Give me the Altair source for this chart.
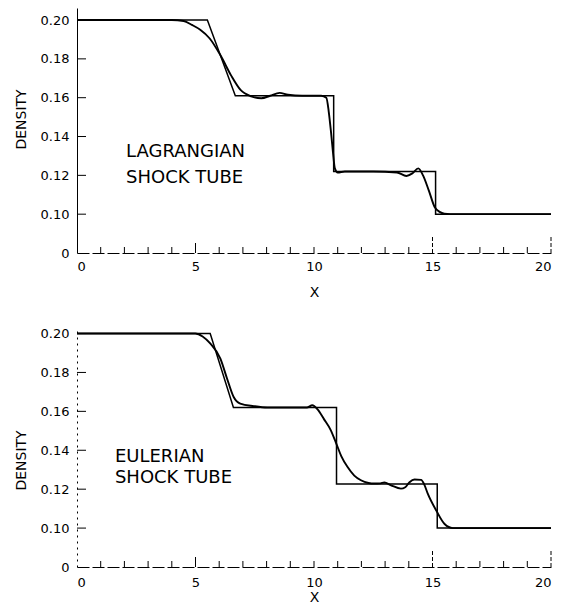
import altair as alt
import pandas as pd

# ---------------- data ----------------
Y_TICKS = [0.08, 0.10, 0.12, 0.14, 0.16, 0.18, 0.20]
Y_INNER_TICKS = [0.10, 0.12, 0.14, 0.16, 0.18, 0.20]
X_LABELS = [0, 5, 10, 15, 20]
X_MINOR = [1, 2, 3, 4, 6, 7, 8, 9, 10, 11, 12, 13, 14, 16, 17, 18, 19]
X_MID = [5]
X_MAJOR = [15, 20]

# Lagrangian (top) – exact solution
lag_exact_x = [0, 5.5, 6.68, 10.83, 10.83, 15.13, 15.13, 20]
lag_exact_y = [0.200, 0.200, 0.161, 0.161, 0.122, 0.122, 0.100, 0.100]
# Lagrangian – numerical solution
lag_num_x = [0, 4.0, 4.5, 4.85, 5.2, 5.6, 6.06, 6.5, 6.9, 7.35, 7.78, 8.15, 8.55,
             8.9, 9.5, 10.3, 10.52, 10.62, 10.72, 10.8, 10.88, 11.0, 11.3, 12.5,
             13.5, 13.9, 14.15, 14.4, 14.6, 14.85, 15.09, 15.3, 15.5, 16.0, 17.0, 20.0]
lag_num_y = [0.200, 0.200, 0.1995, 0.1975, 0.1950, 0.1905, 0.1817, 0.1715, 0.1640,
             0.1607, 0.1597, 0.1610, 0.1625, 0.1615, 0.1610, 0.1610, 0.1600, 0.1530,
             0.1420, 0.1320, 0.1236, 0.1215, 0.1220, 0.1220, 0.1215, 0.1197, 0.1210,
             0.1236, 0.1200, 0.1120, 0.1037, 0.1012, 0.1003, 0.1000, 0.1000, 0.1000]
lag_text = ["LAGRANGIAN", "SHOCK TUBE"]
lag_text_x = [2.07, 2.07]
lag_text_y = [0.1296, 0.1162]

# Eulerian (bottom) – exact solution
eul_exact_x = [0, 5.62, 6.6, 10.95, 10.95, 15.2, 15.2, 20]
eul_exact_y = [0.200, 0.200, 0.162, 0.162, 0.1226, 0.1226, 0.100, 0.100]
# Eulerian – numerical solution
eul_num_x = [0, 4.99, 5.3, 5.62, 6.05, 6.33, 6.61, 6.89, 7.46, 8.03, 9.0, 9.7, 9.93,
             10.15, 10.42, 10.7, 10.92, 11.15, 11.41, 11.7, 11.98, 12.3, 12.54, 12.8,
             12.97, 13.25, 13.67, 13.85, 14.03, 14.24, 14.52, 14.65, 14.8, 15.16,
             15.51, 15.86, 17.0, 20.0]
eul_num_y = [0.200, 0.200, 0.1985, 0.1949, 0.1871, 0.1769, 0.1674, 0.1640, 0.1627,
             0.1620, 0.1620, 0.1620, 0.1631, 0.1610, 0.1560, 0.1505, 0.1441, 0.1370,
             0.1315, 0.1270, 0.1246, 0.1232, 0.1229, 0.1230, 0.1234, 0.1220, 0.1203,
             0.1210, 0.1236, 0.1250, 0.1248, 0.1225, 0.1177, 0.1090, 0.1021, 0.1000,
             0.1000, 0.1000]
eul_text = ["EULERIAN", "SHOCK TUBE"]
eul_text_x = [1.6, 1.6]
eul_text_y = [0.134, 0.1232]

FONT = "DejaVu Sans"
W = 474


def panel(ex, ey, nx, ny, txt, tx, ty, ymax, h, xlab_pad, xtitle_pad, title_y, ydash=None):
    xs = alt.Scale(domain=[0, 20], nice=False, zero=False)
    ys = alt.Scale(domain=[0.08, ymax], nice=False, zero=False)
    exact = pd.DataFrame({"x": ex, "y": ey, "o": list(range(len(ex)))})
    num = pd.DataFrame({"x": nx, "y": ny, "o": list(range(len(nx)))})

    xaxis = alt.Axis(values=X_LABELS, ticks=False, grid=False, title="X",
                     labelPadding=xlab_pad, titlePadding=xtitle_pad, format="d",
                     domainDash=[12, 3])
    yargs = dict(values=Y_TICKS, ticks=False, grid=False, title="DENSITY",
                 labelExpr="datum.value < 0.09 ? '0' : format(datum.value, '.2f')",
                 labelPadding=8, titlePadding=12, titleY=title_y)
    if ydash:
        yargs["domainDash"] = ydash
    yaxis = alt.Axis(**yargs)

    def X(f):
        return alt.X(f, scale=xs, axis=xaxis)

    def Y(f):
        return alt.Y(f, scale=ys, axis=yaxis)

    l_exact = alt.Chart(exact).mark_line(color="black", strokeWidth=1.5).encode(
        x=X("x:Q"), y=Y("y:Q"), order="o:Q")
    l_num = alt.Chart(num).mark_line(color="black", strokeWidth=1.9,
                                     interpolate="monotone").encode(
        x=X("x:Q"), y=Y("y:Q"), order="o:Q")

    def xticks(vals, length, dash=None):
        mk = dict(color="black", strokeWidth=1)
        if dash:
            mk["strokeDash"] = dash
        return alt.Chart(pd.DataFrame({"t": vals})).mark_rule(**mk).encode(
            x=X("t:Q"), y=alt.value(h), y2=alt.value(h - length))

    minor = xticks(X_MINOR, 6)
    mid = xticks(X_MID, 10)
    major = xticks(X_MAJOR, 18, [4, 2])

    yt = alt.Chart(pd.DataFrame({"t": Y_INNER_TICKS})).mark_rule(
        color="black", strokeWidth=1).encode(
        y=Y("t:Q"), x=alt.value(0), x2=alt.value(9))

    text = alt.Chart(pd.DataFrame({"x": tx, "y": ty, "t": txt})).mark_text(
        align="left", baseline="alphabetic", fontSize=18, font=FONT,
        color="black").encode(x=X("x:Q"), y=Y("y:Q"), text="t:N")

    return alt.layer(l_exact, l_num, minor, mid, major, yt, text).properties(
        width=W, height=h)


top = panel(lag_exact_x, lag_exact_y, lag_num_x, lag_num_y, lag_text, lag_text_x,
            lag_text_y, 0.2062, 245, 7, 12, 111)
bottom = panel(eul_exact_x, eul_exact_y, eul_num_x, eul_num_y, eul_text, eul_text_x,
               eul_text_y, 0.2013, 236, 9, 1, 129, ydash=[2, 4])

chart = alt.vconcat(top, bottom, spacing=78, bounds="flush").properties(
    padding={"left": 6, "right": 5, "top": 0, "bottom": 0}
).configure_axis(
    labelFont=FONT, titleFont=FONT, labelFontSize=13, titleFontSize=14,
    titleFontWeight="normal", labelColor="black", titleColor="black",
    domainColor="black", domainWidth=1,
).configure_view(stroke=None)

chart.save("out.html", embed_options={"renderer": "svg", "actions": False})
